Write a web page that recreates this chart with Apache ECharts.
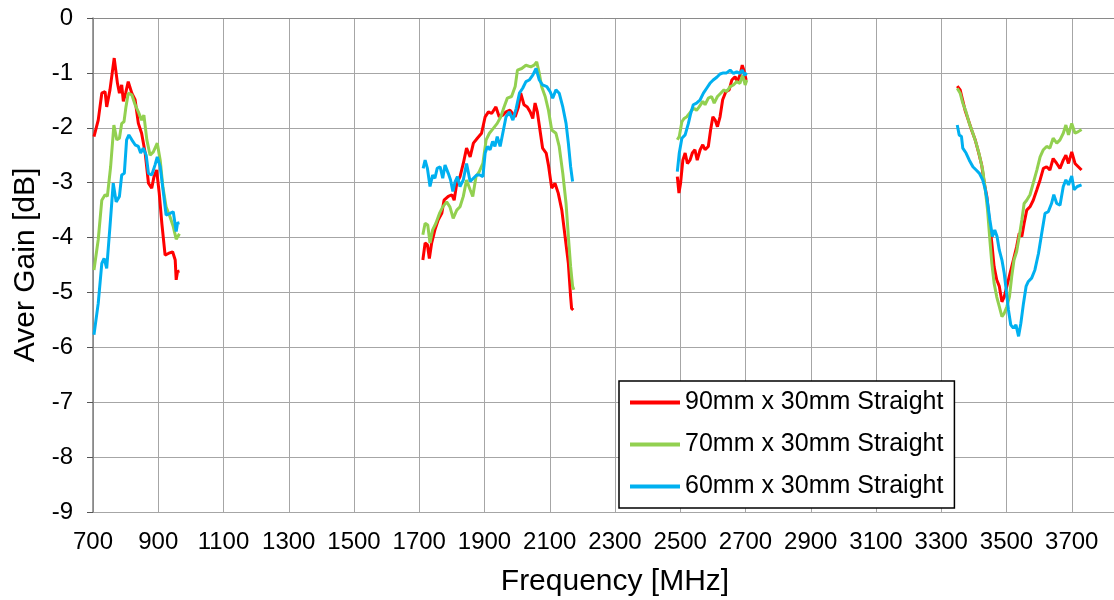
<!DOCTYPE html>
<html>
<head>
<meta charset="utf-8">
<script src="https://cdn.jsdelivr.net/npm/echarts@6/dist/echarts.min.js"></script>
<style>
  html, body { margin: 0; padding: 0; background: #fff; }
  #main { width: 1114px; height: 600px; }
</style>
</head>
<body>
<div id="main"></div>
<script>
// frequency [MHz], gain [dB], one array per band
var red700 = [[703,-2.16],[716,-1.86],[727,-1.37],[737,-1.34],[742,-1.62],[752,-1.31],[765,-0.73],[775,-1.19],[781,-1.37],[788,-1.22],[793,-1.52],[800,-1.37],[808,-1.16],[819,-1.37],[829,-1.49],[839,-1.92],[849,-2.10],[860,-2.46],[870,-3.01],[880,-3.10],[887,-2.89],[895,-2.77],[903,-3.19],[911,-3.74],[921,-4.32],[931,-4.29],[944,-4.26],[952,-4.41],[955,-4.77],[959,-4.62],[965,-4.61]];
var red1700 = [[1711,-4.41],[1718,-4.10],[1725,-4.13],[1731,-4.38],[1738,-4.10],[1748,-3.86],[1758,-3.68],[1769,-3.56],[1776,-3.32],[1789,-3.25],[1800,-3.22],[1807,-3.32],[1815,-3.01],[1825,-2.89],[1835,-2.65],[1845,-2.37],[1856,-2.53],[1866,-2.28],[1878,-2.19],[1891,-2.10],[1902,-1.80],[1912,-1.71],[1922,-1.74],[1935,-1.62],[1945,-1.80],[1956,-1.77],[1966,-1.71],[1978,-1.68],[1994,-1.80],[2004,-1.62],[2011,-1.37],[2021,-1.58],[2031,-1.62],[2040,-1.71],[2048,-1.83],[2055,-1.55],[2062,-1.71],[2070,-2.04],[2078,-2.37],[2089,-2.46],[2096,-2.68],[2106,-3.10],[2116,-3.01],[2126,-3.19],[2137,-3.50],[2147,-3.98],[2157,-4.47],[2164,-5.08],[2167,-5.29],[2172,-5.32]];
var red2500 = [[2491,-2.89],[2496,-3.19],[2501,-3.01],[2508,-2.59],[2515,-2.46],[2522,-2.65],[2530,-2.59],[2537,-2.46],[2545,-2.40],[2552,-2.59],[2561,-2.40],[2569,-2.31],[2576,-2.40],[2586,-2.34],[2593,-2.04],[2600,-1.80],[2607,-1.86],[2614,-1.98],[2622,-1.80],[2630,-1.49],[2640,-1.34],[2650,-1.31],[2658,-1.13],[2668,-1.07],[2675,-1.16],[2683,-1.04],[2690,-0.86],[2695,-0.95],[2702,-1.13]];
var red3350 = [[3349,-1.24],[3358,-1.31],[3364,-1.46],[3373,-1.68],[3383,-1.86],[3393,-2.04],[3404,-2.22],[3414,-2.44],[3424,-2.68],[3432,-3.01],[3440,-3.26],[3447,-3.68],[3455,-4.10],[3462,-4.53],[3470,-4.77],[3478,-4.89],[3486,-5.17],[3493,-5.08],[3501,-4.89],[3511,-4.65],[3521,-4.41],[3531,-4.17],[3539,-3.92],[3547,-3.98],[3554,-3.74],[3562,-3.50],[3572,-3.44],[3582,-3.32],[3593,-3.13],[3603,-2.95],[3613,-2.74],[3623,-2.71],[3633,-2.77],[3643,-2.56],[3654,-2.65],[3664,-2.74],[3674,-2.59],[3682,-2.50],[3690,-2.65],[3700,-2.44],[3710,-2.65],[3720,-2.71],[3730,-2.77]];

var green700 = [[703,-4.59],[716,-4.04],[727,-3.32],[737,-3.22],[744,-3.25],[754,-2.71],[764,-1.95],[773,-2.22],[781,-2.19],[788,-1.92],[795,-1.89],[801,-1.62],[808,-1.37],[819,-1.40],[829,-1.58],[839,-1.71],[849,-1.86],[856,-1.77],[865,-2.22],[875,-2.50],[885,-2.44],[897,-2.28],[906,-2.59],[914,-3.07],[924,-3.44],[936,-3.62],[946,-3.80],[955,-4.03],[965,-3.93]];
var green1700 = [[1711,-3.95],[1718,-3.74],[1726,-3.77],[1733,-4.10],[1741,-3.86],[1751,-3.74],[1762,-3.56],[1772,-3.44],[1784,-3.35],[1794,-3.44],[1804,-3.65],[1815,-3.50],[1825,-3.44],[1835,-3.25],[1845,-2.95],[1856,-3.13],[1864,-3.25],[1874,-2.89],[1884,-2.80],[1895,-2.65],[1905,-2.22],[1915,-2.10],[1927,-2.01],[1939,-1.92],[1950,-1.80],[1960,-1.62],[1970,-1.46],[1983,-1.43],[1994,-1.25],[2001,-0.95],[2014,-0.92],[2027,-0.86],[2042,-0.89],[2052,-0.86],[2060,-0.80],[2068,-1.01],[2075,-1.25],[2086,-1.43],[2096,-1.68],[2106,-2.04],[2119,-2.10],[2129,-2.34],[2140,-2.83],[2150,-3.38],[2157,-3.98],[2164,-4.53],[2170,-4.89],[2174,-4.95]];
var green2500 = [[2491,-2.22],[2497,-2.16],[2505,-1.89],[2512,-1.83],[2520,-1.80],[2528,-1.74],[2535,-1.68],[2543,-1.65],[2550,-1.68],[2558,-1.62],[2569,-1.52],[2576,-1.58],[2586,-1.46],[2596,-1.43],[2604,-1.55],[2614,-1.43],[2624,-1.37],[2634,-1.31],[2642,-1.34],[2653,-1.25],[2663,-1.22],[2673,-1.16],[2683,-1.19],[2691,-1.04],[2699,-1.22],[2704,-1.13]];
var green3350 = [[3349,-1.28],[3358,-1.37],[3366,-1.55],[3376,-1.71],[3386,-1.92],[3397,-2.10],[3407,-2.28],[3417,-2.50],[3427,-2.77],[3435,-3.13],[3442,-3.50],[3449,-4.04],[3455,-4.47],[3462,-4.83],[3470,-5.08],[3478,-5.26],[3486,-5.44],[3493,-5.38],[3501,-5.26],[3509,-5.08],[3516,-4.71],[3523,-4.41],[3531,-4.26],[3539,-3.98],[3547,-3.68],[3554,-3.38],[3562,-3.32],[3572,-3.22],[3582,-3.01],[3593,-2.77],[3603,-2.53],[3613,-2.40],[3623,-2.34],[3633,-2.37],[3643,-2.19],[3654,-2.28],[3664,-2.22],[3674,-2.10],[3682,-1.95],[3690,-2.13],[3700,-1.92],[3710,-2.10],[3720,-2.07],[3730,-2.03]];

var blue700 = [[703,-5.77],[716,-5.20],[727,-4.47],[734,-4.38],[742,-4.56],[752,-3.80],[762,-3.01],[771,-3.35],[781,-3.25],[788,-2.86],[796,-2.83],[803,-2.22],[810,-2.13],[819,-2.22],[829,-2.31],[839,-2.34],[846,-2.46],[854,-2.37],[863,-2.50],[870,-2.83],[880,-2.86],[890,-2.68],[897,-2.53],[906,-2.71],[916,-3.19],[924,-3.59],[936,-3.56],[946,-3.53],[955,-3.89],[959,-3.74],[965,-3.73]];
var blue1700 = [[1712,-2.74],[1718,-2.59],[1725,-2.74],[1733,-3.07],[1741,-2.86],[1748,-2.92],[1755,-2.74],[1764,-2.71],[1772,-2.92],[1779,-2.68],[1789,-2.83],[1796,-2.95],[1803,-3.16],[1810,-2.98],[1817,-2.89],[1825,-3.07],[1835,-2.95],[1845,-2.65],[1856,-2.98],[1866,-2.92],[1876,-2.86],[1886,-2.86],[1895,-2.89],[1902,-2.46],[1909,-2.34],[1917,-2.40],[1925,-2.25],[1932,-2.34],[1939,-2.16],[1948,-2.34],[1958,-2.04],[1966,-1.80],[1976,-1.71],[1987,-1.86],[1997,-1.65],[2007,-1.37],[2017,-1.28],[2027,-1.16],[2037,-1.13],[2048,-1.04],[2058,-0.92],[2068,-1.13],[2078,-1.22],[2091,-1.25],[2101,-1.34],[2109,-1.46],[2119,-1.31],[2129,-1.37],[2140,-1.62],[2150,-1.92],[2157,-2.28],[2164,-2.71],[2170,-2.98]];
var blue2500 = [[2491,-2.80],[2497,-2.46],[2505,-2.19],[2515,-2.13],[2525,-1.92],[2532,-1.74],[2540,-1.58],[2550,-1.55],[2561,-1.49],[2571,-1.37],[2581,-1.28],[2591,-1.19],[2601,-1.13],[2612,-1.08],[2622,-1.02],[2632,-1.00],[2642,-1.00],[2653,-0.95],[2663,-1.01],[2673,-0.98],[2683,-1.01],[2690,-0.95],[2697,-1.04],[2704,-1.00]];
var blue3350 = [[3349,-1.95],[3355,-2.13],[3362,-2.16],[3366,-2.37],[3376,-2.46],[3386,-2.59],[3397,-2.71],[3407,-2.77],[3417,-2.83],[3427,-2.95],[3434,-3.10],[3441,-3.32],[3449,-3.68],[3457,-3.98],[3464,-3.86],[3471,-3.98],[3478,-4.23],[3486,-4.41],[3493,-4.65],[3499,-4.95],[3506,-5.32],[3513,-5.59],[3521,-5.65],[3529,-5.59],[3537,-5.80],[3544,-5.56],[3552,-5.20],[3560,-4.89],[3567,-4.80],[3577,-4.74],[3587,-4.59],[3598,-4.29],[3608,-3.92],[3618,-3.56],[3628,-3.53],[3638,-3.38],[3645,-3.22],[3654,-3.38],[3664,-3.41],[3674,-3.07],[3682,-2.95],[3690,-3.04],[3700,-2.88],[3707,-3.13],[3717,-3.07],[3730,-3.04]];

var seriesNames = ['90mm x 30mm Straight', '70mm x 30mm Straight', '60mm x 30mm Straight'];
var seriesColors = ['#ff0000', '#92d050', '#00b0f0'];
var seriesBands = [
    [red700, red1700, red2500, red3350],
    [green700, green1700, green2500, green3350],
    [blue700, blue1700, blue2500, blue3350]
];

// join the bands, with a gap point between them so the line breaks
function joinBands(bands) {
    var out = [];
    for (var i = 0; i < bands.length; i++) {
        if (i > 0) {
            out.push([bands[i][0][0] - 1, '-']);
        }
        out = out.concat(bands[i]);
    }
    return out;
}

var font = 'Liberation Sans, Arial, sans-serif';
var chart = echarts.init(document.getElementById('main'));

var series = seriesNames.map(function(name, i) {
    return {
        name: name,
        type: 'line',
        data: joinBands(seriesBands[i]),
        symbol: 'none',
        connectNulls: false,
        lineStyle: { color: seriesColors[i], width: 3 },
        itemStyle: { color: seriesColors[i] },
        animation: false
    };
});

chart.setOption({
    animation: false,
    grid: { left: 93, top: 18, width: 1044, height: 494, containLabel: false, outerBoundsMode: 'none' },
    legend: {
        orient: 'vertical',
        left: 619,
        top: 381,
        icon: 'rect',
        itemWidth: 50,
        itemHeight: 4,
        itemGap: 17,
        padding: [9, 11, 9, 11],
        backgroundColor: '#fff',
        borderColor: '#000',
        borderWidth: 1.5,
        textStyle: { fontFamily: font, fontSize: 25, color: '#000' },
        data: seriesNames
    },
    xAxis: {
        type: 'value',
        min: 700,
        max: 3900,
        interval: 200,
        name: 'Frequency [MHz]',
        nameLocation: 'middle',
        nameGap: 55,
        nameTextStyle: { fontFamily: font, fontSize: 30, color: '#000' },
        axisLine: { show: true, lineStyle: { color: '#8a8a8a', width: 1 } },
        axisTick: { show: false },
        axisLabel: {
            fontFamily: font, fontSize: 24, color: '#000', margin: 18, showMaxLabel: false,
            formatter: function(v) { return String(v); }
        },
        splitLine: { show: true, lineStyle: { color: '#a6a6a6', width: 1 } }
    },
    yAxis: {
        type: 'value',
        min: -9,
        max: 0,
        interval: 1,
        name: 'Aver Gain [dB]',
        nameLocation: 'middle',
        nameGap: 50,
        nameTextStyle: { fontFamily: font, fontSize: 30, color: '#000' },
        axisLine: { show: true, lineStyle: { color: '#7f7f7f', width: 1.5 } },
        axisTick: { show: true, inside: false, length: 6, lineStyle: { color: '#555', width: 1 } },
        axisLabel: { fontFamily: font, fontSize: 24, color: '#000', margin: 20 },
        splitLine: { show: true, lineStyle: { color: '#a6a6a6', width: 1 } }
    },
    series: series
});
</script>
</body>
</html>
